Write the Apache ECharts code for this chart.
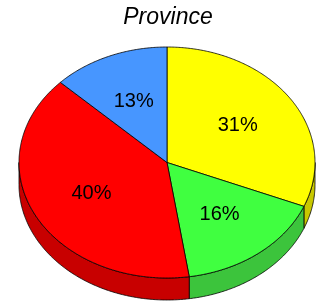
<!DOCTYPE html>
<html><head><meta charset="utf-8">
<script src="https://cdn.jsdelivr.net/npm/echarts@6/dist/echarts.min.js"></script>
<style>html,body{margin:0;padding:0;background:#fff}#c{width:318px;height:303px}</style>
</head><body><div id="c"></div>
<script>
const titleText = 'Province';
const categories = ['A', 'B', 'C', 'D'];
const values = [31.2, 16.4, 39.6, 12.8];
const topColors = ['#ffff00', '#40ff40', '#ff0000', '#4796ff'];
const sideColors = ['#c8c800', '#3cc43c', '#c80000', '#3a7ad0'];

const total = values.reduce((a, b) => a + b, 0);
const starts = [];
let acc = 0;
values.forEach(v => { starts.push(acc); acc += v; });

const CX = 167, CY = 162.5, RX = 148, RY = 115.5, DEPTH = 22, LABEL_R = 0.575;
function pt(th, dy) { return [CX + RX * Math.sin(th), CY - RY * Math.cos(th) + (dy || 0)]; }
function arcPts(a, b, dy) {
  const n = Math.max(2, Math.ceil(Math.abs(b - a) / 0.01));
  const r = [];
  for (let i = 0; i <= n; i++) r.push(pt(a + (b - a) * i / n, dy));
  return r;
}

function renderItem(params, api) {
  const i = params.dataIndex;
  const v = api.value(1);
  const a0 = starts[i] / total * Math.PI * 2;
  const a1 = a0 + v / total * Math.PI * 2;
  const children = [];
  const s0 = Math.max(a0, Math.PI / 2), s1 = Math.min(a1, Math.PI * 1.5);
  if (s1 > s0) {
    const pts = arcPts(s0, s1, 0).concat(arcPts(s1, s0, DEPTH));
    children.push({ type: 'polygon', shape: { points: pts },
      style: { fill: sideColors[i], stroke: '#000', lineWidth: 0.8 } });
  }
  const topPts = [[CX, CY]].concat(arcPts(a0, a1, 0));
  children.push({ type: 'polygon', shape: { points: topPts },
    style: { fill: topColors[i], stroke: '#000', lineWidth: 0.8 } });
  const mid = (a0 + a1) / 2;
  children.push({ type: 'text', x: CX + RX * LABEL_R * Math.sin(mid), y: CY - RY * LABEL_R * Math.cos(mid),
    style: { text: Math.round(v / total * 100) + '%', align: 'center', verticalAlign: 'middle',
      font: '20px "Liberation Sans", Arial, sans-serif', fill: '#000' } });
  return { type: 'group', children };
}

const chart = echarts.init(document.getElementById('c'));
chart.setOption({
  animation: false,
  graphic: [{ type: 'text', x: 168, y: 17.5, style: { text: titleText, align: 'center', verticalAlign: 'middle',
    font: 'italic 23px "Liberation Sans", Arial, sans-serif', fill: '#000' } }],
  series: [{
    type: 'custom',
    coordinateSystem: 'none',
    renderItem,
    data: values.map((v, i) => ({ name: categories[i], value: [i, v] }))
  }]
});
</script></body></html>
